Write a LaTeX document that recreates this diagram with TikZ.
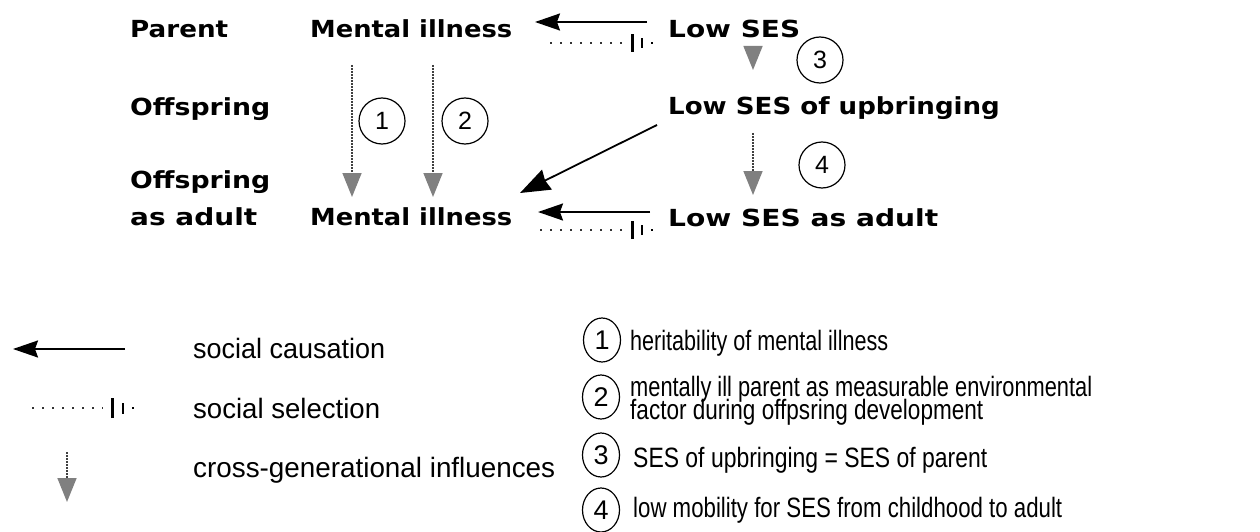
\documentclass[tikz,border=0pt]{standalone}
\usepackage{fontspec}
\usepackage{graphicx}
\usetikzlibrary{arrows.meta,shapes.geometric}
\newfontfamily\dvs{DejaVu Sans}
\newfontfamily\lib{Liberation Sans}
\newcommand\fw[2]{\resizebox{#1pt}{\height}{#2}}
\tikzset{
  lbl/.style={anchor=base west, inner sep=0pt, font=\dvs\bfseries\fontsize{23.5}{26}\selectfont},
  leg/.style={anchor=base west, inner sep=0pt, font=\lib\fontsize{28}{28}\selectfont},
  causal/.style={draw=black, line width=2pt, -{Stealth[length=25pt,width=17pt,inset=3pt]}},
  diag/.style={draw=black, line width=1.8pt, -{Stealth[length=30pt,width=22pt,inset=2pt]}},
  gen/.style={draw=black!75, line width=1.6pt, dash pattern=on 1.6pt off 1.4pt,
     -{Triangle[length=24pt,width=19pt,color=black!50]}},
  seldots/.style={draw=black!80, line width=2pt, dash pattern=on 2pt off 8pt},
  barthick/.style={draw=black, line width=3pt},
  barthin/.style={draw=black, line width=2pt},
  numc/.style={circle, draw=black, line width=1.2pt, minimum size=46pt, inner sep=0pt,
     font=\lib\fontsize{25}{25}\selectfont},
  numl/.style={ellipse, draw=black, line width=1.2pt, minimum width=37pt, minimum height=44pt,
     inner sep=0pt, font=\lib\fontsize{27}{27}\selectfont},
}
\begin{document}
\begin{tikzpicture}[x=1pt,y=-1pt]
\useasboundingbox[fill=white] (0,0) rectangle (1260,532);

% ---------- row labels ----------
\node[lbl] (parent) at (130,38) {\fw{98}{Parent}};
\node[lbl] (off1) at (130,115) {\fw{140}{Offspring}};
\node[lbl] (off2) at (130,188) {\fw{140}{Offspring}};
\node[lbl] (asad) at (130,225) {\fw{127}{as adult}};

% ---------- main nodes ----------
\node[lbl] (mi1) at (310,38) {\fw{202}{Mental illness}};
\node[lbl] (mi2) at (310,225) {\fw{202}{Mental illness}};
\node[lbl] (ses1) at (668,38) {\fw{132}{Low SES}};
\node[lbl] (ses2) at (668,115) {\scalebox{1.11}[1]{Low SES of upbringing}};
\node[lbl] (ses3) at (668,226) {\fw{270}{Low SES as adult}};

% ---------- connector end points ----------
\coordinate (c1s) at (647,22);  \coordinate (c1e) at (535,22);
\coordinate (s1s) at (550,43);  \coordinate (s1e) at (622,43);
\coordinate (c2s) at (650,212); \coordinate (c2e) at (538,212);
\coordinate (s2s) at (540,230); \coordinate (s2e) at (622,230);
\coordinate (g1s) at (352,65);  \coordinate (g1e) at (352,197);
\coordinate (g2s) at (433,65);  \coordinate (g2e) at (433,197);
\coordinate (g3s) at (753,48);  \coordinate (g3e) at (753,70);
\coordinate (g4s) at (753,133); \coordinate (g4e) at (753,195);
\coordinate (ds) at (657,125);  \coordinate (de) at (520,193);

% social causation
\draw[causal] (c1s) -- (c1e);
\draw[causal] (c2s) -- (c2e);
\draw[diag] (ds) -- (de);
% social selection
\draw[seldots] (s1s) -- (s1e);
\draw[barthick] ([xshift=10pt,yshift=-9pt]s1e) -- ([xshift=10pt,yshift=9pt]s1e);
\draw[barthin] ([xshift=20pt,yshift=-5pt]s1e) -- ([xshift=20pt,yshift=5pt]s1e);
\fill[black] ([xshift=29pt,yshift=-1.2pt]s1e) rectangle ([xshift=31.4pt,yshift=1.2pt]s1e);
\draw[seldots] (s2s) -- (s2e);
\draw[barthick] ([xshift=10pt,yshift=-9pt]s2e) -- ([xshift=10pt,yshift=9pt]s2e);
\draw[barthin] ([xshift=20pt,yshift=-5pt]s2e) -- ([xshift=20pt,yshift=5pt]s2e);
\fill[black] ([xshift=29pt,yshift=-1.2pt]s2e) rectangle ([xshift=31.4pt,yshift=1.2pt]s2e);
% cross-generational
\draw[gen] (g1s) -- (g1e);
\draw[gen] (g2s) -- (g2e);
\draw[gen] (g3s) -- (g3e);
\draw[gen] (g4s) -- (g4e);

% numbered circles
\node[numc] (n1) at (382,121) {1};
\node[numc] (n2) at (465,121) {2};
\node[numc] (n3) at (820,60) {3};
\node[numc] (n4) at (822,165) {4};

% ---------- legend ----------
\coordinate (lc1) at (125,349); \coordinate (lc2) at (13,349);
\draw[causal] (lc1) -- (lc2);
\node[leg] (lt1) at (193,358) {\fw{192}{social causation}};

\coordinate (ls1) at (32,408); \coordinate (ls2) at (103,408);
\draw[seldots] (ls1) -- (ls2);
\draw[barthick] ([xshift=9pt,yshift=-10pt]ls2) -- ([xshift=9pt,yshift=10pt]ls2);
\draw[barthin] ([xshift=20pt,yshift=-5.5pt]ls2) -- ([xshift=20pt,yshift=5.5pt]ls2);
\fill[black] ([xshift=29pt,yshift=-1.2pt]ls2) rectangle ([xshift=31.4pt,yshift=1.2pt]ls2);
\node[leg] (lt2) at (193,418) {\fw{187}{social selection}};

\coordinate (lg1) at (67,452); \coordinate (lg2) at (67,502);
\draw[gen] (lg1) -- (lg2);
\node[leg] (lt3) at (193,477) {\fw{362}{cross-generational influences}};

\node[numl] (l1) at (602,340) {1};
\node[numl] (l2) at (601,397) {2};
\node[numl] (l3) at (601,455) {3};
\node[numl] (l4) at (601,510) {4};
\node[leg] (d1) at (630,350) {\fw{258}{heritability of mental illness}};
\node[leg] (d2a) at (630,396) {\fw{462}{mentally ill parent as measurable environmental}};
\node[leg] (d2b) at (630,419) {\fw{353}{factor during offpsring development}};
\node[leg] (d3) at (633,467) {\fw{354}{SES of upbringing = SES of parent}};
\node[leg] (d4) at (633,517) {\fw{429}{low mobility for SES from childhood to adult}};
\end{tikzpicture}
\end{document}
